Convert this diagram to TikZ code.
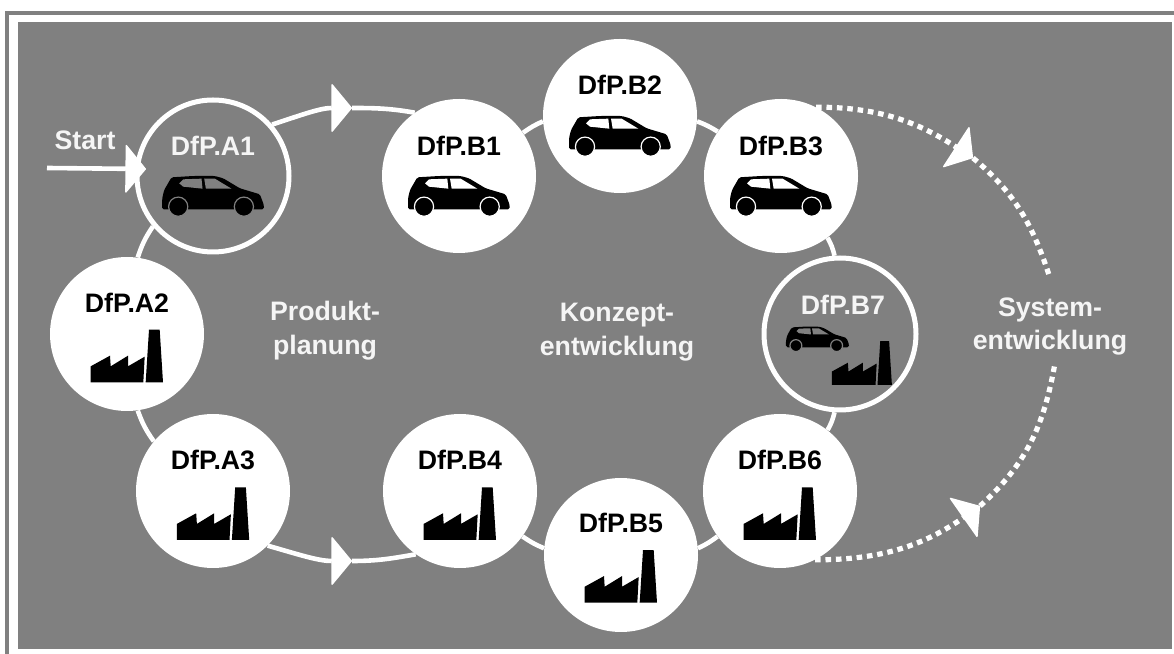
\documentclass[tikz,border=0pt]{standalone}
\usepackage{fontspec}
\setmainfont{Liberation Sans}
\usetikzlibrary{arrows.meta}
\definecolor{panel}{gray}{0.5}
\definecolor{softwhite}{gray}{0.96}

\tikzset{
  stage/.style={circle, fill=white, minimum size=3.85cm, inner sep=0pt},
  openstage/.style={circle, draw=white, line width=0.125cm, minimum size=3.8cm, inner sep=0pt},
  stagelabel/.style={font=\fontsize{19}{23}\selectfont\bfseries, inner sep=0pt},
  phase/.style={font=\fontsize{19}{24}\selectfont\bfseries, text=softwhite, align=center, inner sep=0pt},
  flow/.style={white, line width=0.115cm},
  tip/.style={-{Triangle[length=0.52cm, width=1.25cm, round, line width=1pt]}},
  dots/.style={white, line width=0.13cm, dash pattern=on 0.14cm off 0.12cm},
  pics/car/.style={code={
    \fill[black, rounded corners=0.04cm] (-1.275,-0.333) -- (-1.275,-0.058) -- (-1.225,0.15) -- (-1.042,0.467)
      -- (-0.5,0.5) -- (0.042,0.5) -- (0.25,0.442) -- (0.667,0.192) -- (1.167,0.042)
      -- (1.267,-0.225) -- (1.267,-0.333) -- cycle;
    \fill[#1] (-0.85,0.317) -- (-0.75,0.417) -- (-0.292,0.433) -- (-0.267,0.183) -- (-0.75,0.233) -- cycle;
    \fill[#1] (-0.225,0.433) -- (0.042,0.433) -- (0.458,0.183) -- (-0.183,0.183) -- cycle;
    \filldraw[fill=black, draw=#1, line width=0.03cm] (-0.875,-0.267) circle (0.24);
    \filldraw[fill=black, draw=#1, line width=0.03cm] (0.767,-0.267) circle (0.24);
  }},
  pics/factory/.style={code={
    \fill[black] (-0.908,-0.658) -- (-0.908,-0.258) -- (-0.425,0.008) -- (-0.408,-0.258)
      -- (0.025,0.008) -- (0.025,-0.258) -- (0.442,-0.017) -- (0.408,-0.658) -- cycle;
    \fill[black] (0.467,-0.658) -- (0.55,0.658) -- (0.817,0.658) -- (0.9,-0.658) -- cycle;
  }},
}

\begin{document}
\begin{tikzpicture}
\useasboundingbox (0,0) rectangle (29.35,-16.35);

% --- Rahmen ---
\fill[panel] (0.45,-0.5625) rectangle (29.29,-16.225);
\draw[panel, line width=0.1cm] (0.175,-16.35) -- (0.175,-0.325) -- (29.35,-0.325);

% --- Stationen ---
\node[openstage] (A1) at (5.325,-4.4) {};
\node[stage] (A2) at (3.175,-8.35) {};
\node[stage] (A3) at (5.325,-12.275) {};
\node[stage] (B1) at (11.475,-4.4) {};
\node[stage] (B2) at (15.5,-2.9) {};
\node[stage] (B3) at (19.525,-4.4) {};
\node[stage] (B4) at (11.5,-12.275) {};
\node[stage] (B5) at (15.525,-13.875) {};
\node[stage] (B6) at (19.5,-12.275) {};
\node[openstage] (B7) at (21,-8.35) {};

\coordinate (startin) at (1.175,-4.2);
\coordinate (startend) at (3.65,-4.225);
\coordinate (topend) at (8.8,-2.7);
\coordinate (bottomend) at (8.8,-14.025);
\coordinate (uptip) at (24.325,-3.95);
\coordinate (upfree) at (26.25,-6.95);
\coordinate (lowtip) at (24.5,-12.65);
\coordinate (lowfree) at (26.375,-9.075);

% --- Verbindungen ---
\draw[flow, tip] (startin) -- (startend);
\draw[flow, tip] (A1.41) to[out=18, in=180] (topend);
\draw[flow] (topend) to[out=0, in=170] (B1.125);
\draw[flow, tip] (A3.-45) to[out=-16, in=180] (bottomend);
\draw[flow] (bottomend) to[out=0, in=-170] (B4.-125);
\draw[flow] (A1.-140) to[bend right=8] (A2.82);
\draw[flow] (A2.-82) to[bend right=8] (A3.140);
\draw[flow] (B1.34) to[bend left=6] (B2.184);
\draw[flow] (B2.-4) to[bend left=6] (B3.145);
\draw[flow] (B3.-53) to[bend left=8] (B7.94);
\draw[flow] (B7.-94) to[bend left=8] (B6.52);
\draw[flow] (B4.-36) to[bend right=6] (B5.175);
\draw[flow] (B5.5) to[bend right=6] (B6.-144);
\draw[dots, tip] (B3.63) to[out=0, in=147] (uptip);
\draw[dots] (uptip) to[out=-40, in=108] (upfree);
\draw[dots, tip] (B6.-63) to[out=0, in=-145] (lowtip);
\draw[dots] (lowtip) to[out=42, in=-100] (lowfree);

% --- Beschriftung ---
\node[stagelabel, text=softwhite] (startlabel) at (2.125,-3.5) {Start};
\node[stagelabel, text=softwhite] (A1label) at (5.325,-3.65) {DfP.A1};
\node[stagelabel] (A2label) at (3.175,-7.575) {DfP.A2};
\node[stagelabel] (A3label) at (5.325,-11.5) {DfP.A3};
\node[stagelabel] (B1label) at (11.475,-3.65) {DfP.B1};
\node[stagelabel] (B2label) at (15.5,-2.125) {DfP.B2};
\node[stagelabel] (B3label) at (19.525,-3.65) {DfP.B3};
\node[stagelabel] (B4label) at (11.5,-11.5) {DfP.B4};
\node[stagelabel] (B5label) at (15.525,-13.075) {DfP.B5};
\node[stagelabel] (B6label) at (19.5,-11.5) {DfP.B6};
\node[stagelabel, text=softwhite] (B7label) at (21.075,-7.625) {DfP.B7};

\node[phase] (produkt) at (8.125,-8.27) {Produkt-\\planung};
\node[phase] (konzept) at (15.425,-8.3) {Konzept-\\entwicklung};
\node[phase] (system) at (26.25,-8.16) {System-\\entwicklung};

% --- Symbole ---
\pic at (5.33,-4.9) {car=panel};
\pic at (11.475,-4.9) {car=white};
\pic at (15.5,-3.4) {car=white};
\pic at (19.525,-4.9) {car=white};
\pic[scale=0.62] at (20.44,-8.475) {car=panel};
\pic at (3.175,-8.9) {factory};
\pic at (5.33,-12.84) {factory};
\pic at (11.5,-12.84) {factory};
\pic at (15.525,-14.41) {factory};
\pic at (19.5,-12.84) {factory};
\pic[scale=0.83] at (21.55,-9.075) {factory};

\end{tikzpicture}
\end{document}
